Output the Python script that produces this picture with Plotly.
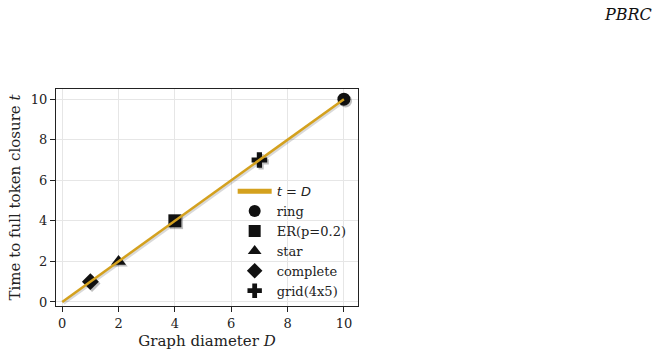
import plotly.graph_objects as go

categories = ["ring", "ER(p=0.2)", "star", "complete", "grid(4x5)"]
diameters = [10, 4, 2, 1, 7]
closure_times = [10, 4, 2, 1, 7]
symbols = ["circle", "square", "triangle-up", "diamond", "cross"]
ref_x = [0, 10]
ref_y = [0, 10]

FONT = "DejaVu Serif"
fig = go.Figure()

# marker shadows
for i, c in enumerate(categories):
    fig.add_trace(go.Scatter(x=[diameters[i] + 0.06], y=[closure_times[i] - 0.09], mode="markers",
                             marker=dict(symbol=symbols[i], size=13, color="rgba(0,0,0,0.25)"),
                             showlegend=False, hoverinfo="skip"))
for i, c in enumerate(categories):
    fig.add_trace(go.Scatter(x=[diameters[i]], y=[closure_times[i]], mode="markers", name=c,
                             legendrank=10 + i,
                             marker=dict(symbol=symbols[i], size=13, color="#111111",
                                         line=dict(width=0))))
# subtle shadow under the reference line
fig.add_trace(go.Scatter(x=[v + 0.05 for v in ref_x], y=[v - 0.07 for v in ref_y],
                         mode="lines", line=dict(color="rgba(0,0,0,0.15)", width=3),
                         showlegend=False, hoverinfo="skip"))
fig.add_trace(go.Scatter(x=ref_x, y=ref_y, mode="lines",
                         name="<span style='font-family:DejaVu Sans'><i>t</i> = <i>D</i></span>",
                         legendrank=1, line=dict(color="#D4A11E", width=2.5)))

fig.update_layout(
    width=659, height=358,
    margin=dict(l=56, r=301, t=89, b=52),
    paper_bgcolor="white", plot_bgcolor="white",
    font=dict(family=FONT, size=13, color="#222222"),
    legend=dict(x=0.585, y=0.598, xanchor="left", yanchor="top", bgcolor="rgba(255,255,255,0)",
                font=dict(family=FONT, size=13, color="#222"), itemsizing="constant",
                tracegroupgap=0, traceorder="normal", itemwidth=34),
    annotations=[dict(text="<i>PBRC</i>", x=1, y=1, xref="paper", yref="paper",
                      xanchor="right", yanchor="top", xshift=296, yshift=86,
                      showarrow=False, font=dict(family=FONT, size=16, color="#111"))],
)
fig.update_xaxes(range=[-0.22, 10.5], tickvals=[0, 2, 4, 6, 8, 10], showgrid=True,
                 gridcolor="#e6e6e6", zeroline=False, showline=True, linecolor="#222",
                 linewidth=1, mirror=True, ticks="outside", ticklen=5, tickcolor="#222",
                 tickfont=dict(size=13),
                 title=dict(text="Graph diameter <i>D</i>", font=dict(size=15), standoff=5))
fig.update_yaxes(range=[-0.2, 10.5], tickvals=[0, 2, 4, 6, 8, 10], showgrid=True,
                 gridcolor="#e6e6e6", zeroline=False, showline=True, linecolor="#222",
                 linewidth=1, mirror=True, ticks="outside", ticklen=5, tickcolor="#222",
                 tickfont=dict(size=13),
                 title=dict(text="Time to full token closure <i>t</i>", font=dict(size=15), standoff=6))

fig.write_html("out.html")
